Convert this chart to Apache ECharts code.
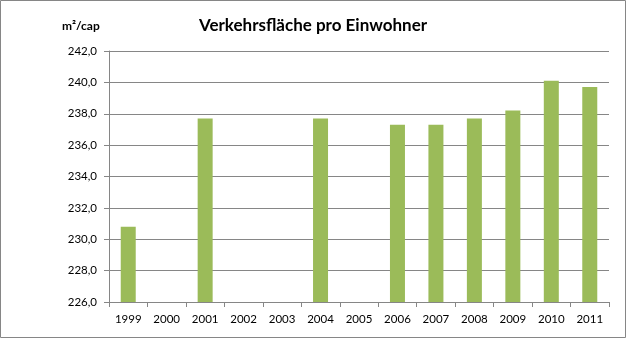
<!DOCTYPE html>
<html>
<head>
<meta charset="utf-8">
<script src="https://cdn.jsdelivr.net/npm/echarts@6/dist/echarts.min.js"></script>
<style>
  html, body { margin: 0; padding: 0; background: #fff; }
  #chart { width: 626px; height: 338px; }
</style>
</head>
<body>
<div id="chart"></div>
<script>
// Years on the category axis
const years = ['1999', '2000', '2001', '2002', '2003', '2004', '2005', '2006', '2007', '2008', '2009', '2010', '2011'];
// Traffic area per inhabitant (m²/cap); null = no figure for that year
const areaPerCapita = [230.8, null, 237.7, null, null, 237.7, null, 237.3, 237.3, 237.7, 238.2, 240.1, 239.7];
// Value axis range
const yMin = 226;
const yMax = 242;
const yStep = 2;

const fontFamily = 'Lato, "Open Sans", "Liberation Sans", sans-serif';
const axisGrey = '#868686';

const chart = echarts.init(document.getElementById('chart'), null, { renderer: 'canvas' });

chart.setOption({
  animation: false,
  backgroundColor: '#ffffff',
  title: {
    text: 'Verkehrsfläche pro Einwohner',
    left: 'center',
    top: 12,
    textStyle: { fontFamily, fontSize: 17, fontWeight: 'bold', color: '#000' }
  },
  graphic: [
    {
      type: 'rect',
      shape: { x: 0.5, y: 0.5, width: 625, height: 337 },
      style: { fill: 'none', stroke: axisGrey, lineWidth: 1 },
      silent: true
    },
    {
      type: 'text',
      left: 62,
      top: 20,
      style: { text: 'm²/cap', fontFamily, fontSize: 12, fontWeight: 'bold', fill: '#000' }
    }
  ],
  grid: { left: 109, right: 17, top: 51, bottom: 36, containLabel: false },
  xAxis: {
    type: 'category',
    data: years,
    boundaryGap: true,
    axisLine: { lineStyle: { color: axisGrey, width: 1 } },
    axisTick: { show: true, length: 5, lineStyle: { color: axisGrey }, interval: 0 },
    axisLabel: { color: '#000', fontFamily, fontSize: 11.5, margin: 11, interval: 0 }
  },
  yAxis: {
    type: 'value',
    min: yMin,
    max: yMax,
    interval: yStep,
    axisLine: { show: true, lineStyle: { color: axisGrey, width: 1 } },
    axisTick: { show: true, length: 5, lineStyle: { color: axisGrey } },
    splitLine: { show: true, lineStyle: { color: axisGrey, width: 1 } },
    axisLabel: {
      color: '#000',
      fontFamily,
      fontSize: 11.5,
      margin: 12,
      formatter: v => v.toFixed(1).replace('.', ',')
    }
  },
  series: [
    {
      type: 'bar',
      data: areaPerCapita,
      barWidth: 15,
      itemStyle: { color: '#9bbb59' }
    }
  ]
});
</script>
</body>
</html>
